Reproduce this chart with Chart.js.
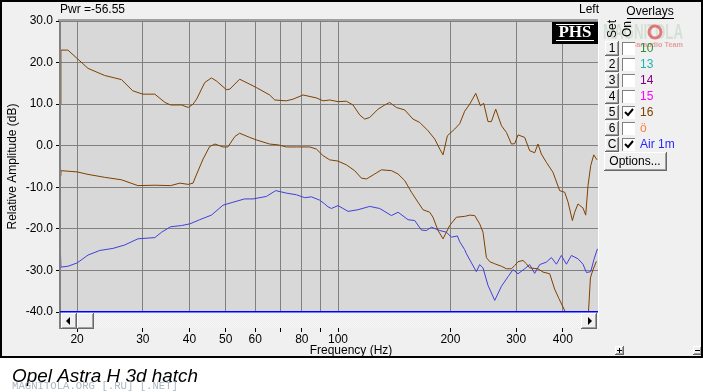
<!DOCTYPE html>
<html>
<head>
<meta charset="utf-8">
<script src="https://cdn.jsdelivr.net/npm/chart.js@4.4.0/dist/chart.umd.min.js"></script>
<style>
html, body { margin: 0; padding: 0; background: #fff; }
canvas { display: block; }
</style>
</head>
<body>
<canvas id="resp" width="703" height="392"></canvas>
<script>
// upper brown trace (overlay 16)
var upperFreq = [18.0, 18.1, 18.9, 20, 21.4, 23.7, 26.3, 28.2, 30, 32.3, 34.4, 35.6, 38.1, 39.7, 40.9, 41.8, 43.95, 45.8, 47.2, 50.2, 51.3, 54.5, 57.4, 60.4, 65.6, 67.7, 72.7, 75.8, 80.6, 87.5, 91.2, 95.0, 100, 105.3, 109.7, 114.3, 117.9, 121.6, 128.0, 133.4, 137.5, 143.3, 150.9, 158.8, 165.5, 174.2, 181.6, 187.3, 191.1, 196.3, 205.3, 211.8, 218.4, 225.3, 233.8, 240.6, 245.6, 252.2, 257.5, 264.5, 274.0, 282.5, 291.4, 297.4, 303.5, 316.2, 326.1, 336.3, 343.2, 350.5, 361.5, 376.5, 392.4, 404.7, 413.0, 424.4, 430.5, 439.3, 453.1, 460.7, 467.3, 475.2, 484.1, 494.0];
var upperDb = [10.0, 23.0, 23.0, 21.0, 18.6, 16.9, 15.9, 13.2, 12.4, 12.4, 10.4, 9.8, 9.8, 9.2, 10.0, 11.2, 15.2, 16.3, 15.6, 13.5, 13.6, 16.0, 15.0, 14.0, 12.2, 11.0, 10.8, 11.2, 12.2, 11.5, 10.8, 11.0, 10.6, 10.7, 9.8, 7.4, 6.4, 6.8, 8.8, 9.8, 10.4, 9.2, 8.6, 6.4, 5.6, 3.6, 1.6, -0.8, -2.2, 2.4, 4.0, 5.3, 8.3, 10.0, 12.6, 9.6, 10.2, 5.8, 5.8, 8.8, 4.8, 3.2, 0.4, 0.5, 2.6, 2.0, -1.2, -1.7, 0.4, -2.0, -4.0, -6.4, -10.8, -11.2, -13.5, -18.0, -16.0, -14.0, -15.0, -16.7, -9.6, -4.8, -2.2, -3.4];

// lower brown trace
var lowerFreq = [18.0, 18.1, 20, 21.4, 23.7, 26.3, 29.1, 32.3, 35.6, 37.7, 39.7, 40.9, 41.3, 43.5, 45.3, 46.8, 49.2, 50.7, 52.9, 54.5, 58.0, 60.4, 65.6, 69.1, 72.7, 77.4, 84.0, 87.5, 91.2, 95.0, 100, 105.3, 110.8, 115.5, 119.2, 125.4, 130.7, 139.0, 144.8, 150.9, 157.3, 163.8, 168.9, 176.0, 179.6, 185.3, 191.1, 199.1, 207.5, 218.4, 225.3, 232.3, 239.6, 244.5, 249.7, 254.9, 262.9, 274.0, 282.5, 291.4, 297.4, 303.5, 313.0, 319.6, 326.1, 343.2, 354.0, 369.0, 380.4, 390.7, 400.5, 409.0, 420, 450, 467.3, 474.3, 482.0, 492.2];
var lowerDb = [-7.2, -6.0, -6.3, -6.9, -7.6, -8.2, -9.6, -9.5, -9.6, -9.0, -9.3, -9.0, -8.0, -3.2, -0.2, 0.4, -0.3, -0.3, 2.2, 3.0, 2.0, 1.4, 0.4, 0.2, -0.3, -0.3, -0.3, -0.8, -2.4, -3.4, -3.7, -4.6, -6.0, -7.8, -8.0, -6.8, -5.8, -6.0, -6.8, -8.4, -11.2, -13.6, -15.4, -16.0, -17.2, -20.4, -22.4, -19.2, -17.2, -17.0, -16.7, -16.8, -18.8, -20.8, -26.9, -27.9, -28.4, -29.0, -29.6, -29.6, -28.8, -27.9, -27.6, -28.4, -29.4, -29.6, -30.4, -30.8, -34.5, -36.8, -38.8, -40.5, -43, -45, -42, -31.8, -29.8, -27.8];

// blue trace (Air 1m)
var airFreq = [17.95, 18.1, 18.9, 20, 21.4, 23.0, 24.95, 26.8, 29.1, 32.3, 33.7, 35.6, 38.1, 40.1, 42.6, 45.8, 49.2, 52.3, 56.2, 59.2, 64.3, 68.1, 72.7, 77.4, 81.4, 84.9, 89.3, 92.1, 94.0, 96.0, 100, 106.4, 113.1, 121.6, 129.3, 139.0, 144.8, 154.0, 160.5, 167.3, 172.5, 177.9, 187.3, 195.1, 201.2, 208.8, 211.8, 218.4, 220.8, 234.7, 239.6, 244.5, 252.2, 262.9, 274.0, 285.4, 294.3, 303.5, 316.2, 326.1, 336.3, 346.9, 361.5, 372.8, 384.5, 396.5, 409.0, 421.8, 439.3, 453.1, 462.7, 475.2, 485.0, 495.3];
var airDb = [-17.8, -29.2, -29.0, -28.2, -26.3, -25.2, -24.7, -23.9, -22.4, -22.1, -20.8, -19.5, -19.2, -18.8, -17.8, -16.7, -14.3, -13.6, -12.8, -12.8, -12.2, -10.8, -11.4, -11.8, -12.5, -12.3, -13.1, -14.0, -14.7, -15.1, -14.4, -15.8, -15.4, -14.6, -15.1, -16.8, -16.0, -17.8, -18.0, -20.3, -20.4, -19.6, -20.4, -20.8, -22.0, -21.7, -23.1, -25.0, -26.0, -30.3, -28.6, -29.4, -33.6, -37.2, -33.8, -31.5, -29.8, -30.8, -29.6, -28.6, -30.7, -28.6, -28.0, -26.9, -28.5, -26.4, -28.5, -26.4, -27.2, -28.5, -30.5, -30.3, -27.3, -24.8];

var freqTicks = [20, 30, 40, 50, 60, 70, 80, 90, 100, 200, 300, 400];
var freqLabels = ['20', '30', '40', '50', '60', '', '80', '', '100', '200', '300', '400'];
var dbTicks = [-40, -30, -20, -10, 0, 10, 20, 30];

var overlaySets = ['1', '2', '3', '4', '5', '6', 'C'];
var overlayNames = ['10', '13', '14', '15', '16', '\u00f6', 'Air 1m'];
var overlayOn = [false, false, false, false, true, false, true];
var overlayColors = ['#2f8f2f', '#1fb3b3', '#800080', '#ff00ff', '#804000', '#ff8040', '#2828ff'];

var FONT = '"Liberation Sans", Arial, sans-serif';
var BROWN = '#804000';
var BLUE = '#4040dc';

function pts(fs, ds) {
  return fs.map(function (f, i) { return { x: f, y: ds[i] }; });
}

function bevel(c, x, y, w, h) {
  c.fillStyle = '#f0f0f0';
  c.fillRect(x, y, w, h);
  c.fillStyle = '#ffffff';
  c.fillRect(x, y, w, 1);
  c.fillRect(x, y, 1, h);
  c.fillStyle = '#a0a0a0';
  c.fillRect(x + 1, y + h - 2, w - 2, 1);
  c.fillRect(x + w - 2, y + 1, 1, h - 2);
  c.fillStyle = '#696969';
  c.fillRect(x, y + h - 1, w, 1);
  c.fillRect(x + w - 1, y, 1, h);
}

// draw text squeezed into a given width
function fitText(c, s, x, y, w) {
  var m = c.measureText(s).width;
  c.save();
  c.translate(x, y);
  c.scale(w / m, 1);
  c.fillText(s, 0, 0);
  c.restore();
}

var frame = {
  id: 'frame',
  beforeDraw: function (chart) {
    var c = chart.ctx, a = chart.chartArea;
    c.save();
    c.fillStyle = '#ffffff';
    c.fillRect(0, 0, 703, 392);
    c.fillStyle = '#f0f0f0';
    c.fillRect(0, 0, 703, 357);
    c.fillStyle = '#d8d8d8';
    c.fillRect(a.left, a.top, a.right - a.left, a.bottom - a.top);
    c.restore();
  },
  afterDraw: function (chart) {
    var c = chart.ctx, a = chart.chartArea;
    c.save();

    // top border of the plot and left edge down to the scrollbar
    c.fillStyle = '#a0a0a0';
    c.fillRect(a.left - 2, a.top - 2, a.right - a.left + 2, 2);
    c.fillStyle = '#808080';
    c.fillRect(a.left - 1, a.top, 2, a.bottom + 17 - a.top);
    c.fillStyle = '#ffffff';
    c.fillRect(a.right, a.top - 2, 1, a.bottom + 18 - a.top);

    // scrollbar
    var sy = a.bottom, sh = 16;
    c.fillStyle = '#f8f8f8';
    c.fillRect(a.left + 1, sy, a.right - a.left - 1, sh);
    c.fillStyle = '#ececec';
    for (var x = a.left + 1; x < a.right; x++) {
      for (var y = sy; y < sy + sh; y++) {
        if ((x + y) % 2 === 0) c.fillRect(x, y, 1, 1);
      }
    }
    c.fillStyle = '#0000ff';
    c.fillRect(a.left, sy - 1, a.right - a.left, 1.5);
    bevel(c, a.left + 1, sy + 1, 16, sh);
    bevel(c, a.left + 17, sy + 1, 17, sh);
    bevel(c, a.right - 17, sy + 1, 16, sh);
    c.fillStyle = '#000';
    c.beginPath();
    c.moveTo(a.left + 6, sy + 9);
    c.lineTo(a.left + 10, sy + 5);
    c.lineTo(a.left + 10, sy + 13);
    c.fill();
    c.beginPath();
    c.moveTo(a.right - 6, sy + 9);
    c.lineTo(a.right - 10, sy + 5);
    c.lineTo(a.right - 10, sy + 13);
    c.fill();

    // labels around the plot
    c.fillStyle = '#000';
    c.font = '12px ' + FONT;
    c.textBaseline = 'middle';
    c.textAlign = 'left';
    c.fillText('Pwr =-56.55', 60, 10);
    c.textAlign = 'right';
    c.fillText('Left', 599, 10);
    c.textAlign = 'center';
    c.fillText('Frequency (Hz)', 351, 351);

    // PHS logo
    c.fillStyle = '#000';
    c.fillRect(552, 22, 46, 22);
    c.fillStyle = '#fff';
    c.fillRect(556, 24, 38, 1);
    c.fillRect(556, 40, 38, 1);
    c.font = 'bold 17px "Liberation Serif", "DejaVu Serif", serif';
    c.textAlign = 'center';
    c.fillText('PHS', 575, 33);

    // faint logo watermark behind the panel header
    c.textAlign = 'left';
    c.font = 'bold 22px ' + FONT;
    c.fillStyle = 'rgba(120,170,120,0.22)';
    fitText(c, 'MAGNITOLA', 603, 33, 80);
    c.strokeStyle = 'rgba(220,70,70,0.7)';
    c.lineWidth = 3;
    c.beginPath();
    c.arc(655, 32, 6, 0, Math.PI * 2);
    c.stroke();
    c.font = 'bold 8px ' + FONT;
    c.fillStyle = 'rgba(220,90,90,0.55)';
    fitText(c, 'Caraudio Team', 631, 45, 52);

    // overlay panel
    c.fillStyle = '#000';
    c.font = '12px ' + FONT;
    c.textAlign = 'center';
    c.fillText('Overlays', 650, 12);
    c.fillRect(627, 18, 47, 1);
    c.save();
    c.translate(613, 29);
    c.rotate(-Math.PI / 2);
    c.fillText('Set', 0, 0);
    c.restore();
    c.save();
    c.translate(628, 29);
    c.rotate(-Math.PI / 2);
    c.fillText('On', 0, 0);
    c.restore();

    for (var i = 0; i < overlaySets.length; i++) {
      var cy = 48 + i * 16;
      bevel(c, 605, cy - 7, 14, 15);
      c.fillStyle = '#000';
      c.textAlign = 'center';
      c.font = '12px ' + FONT;
      c.fillText(overlaySets[i], 612, cy + 1);
      // checkbox
      c.fillStyle = '#808080';
      c.fillRect(622, cy - 6, 13, 13);
      c.fillStyle = '#ffffff';
      c.fillRect(623, cy - 5, 12, 12);
      if (overlayOn[i]) {
        c.strokeStyle = '#000';
        c.lineWidth = 2;
        c.beginPath();
        c.moveTo(625, cy);
        c.lineTo(628, cy + 3);
        c.lineTo(633, cy - 3);
        c.stroke();
      }
      c.fillStyle = overlayColors[i];
      c.textAlign = 'left';
      c.fillText(overlayNames[i], 640, cy + 1);
    }

    bevel(c, 604, 152, 63, 19);
    c.fillStyle = '#000';
    c.textAlign = 'center';
    c.fillText('Options...', 635, 162);

    // zoom buttons
    bevel(c, 615, 346, 9, 9);
    bevel(c, 693, 346, 9, 9);
    c.fillStyle = '#000';
    c.fillRect(617, 350, 5, 1);
    c.fillRect(619, 348, 1, 5);
    c.fillRect(695, 350, 5, 1);

    // window border
    c.strokeStyle = '#000';
    c.lineWidth = 2;
    c.strokeRect(1, 1, 701, 356);

    // caption below the window
    c.fillStyle = '#000';
    c.textAlign = 'left';
    c.textBaseline = 'alphabetic';
    c.font = 'italic 19px ' + FONT;
    fitText(c, 'Opel Astra H 3d hatch', 12, 382, 186);
    c.fillStyle = 'rgba(150,165,180,0.8)';
    c.font = '10.5px "Liberation Mono", "DejaVu Sans Mono", monospace';
    fitText(c, 'MAGNITOLA.ORG [.RU] [.NET]', 12, 389, 166);

    c.restore();
  }
};

new Chart(document.getElementById('resp').getContext('2d'), {
  type: 'line',
  data: {
    datasets: [
      { data: pts(upperFreq, upperDb), borderColor: BROWN, borderWidth: 1, pointRadius: 0, fill: false },
      { data: pts(lowerFreq, lowerDb), borderColor: BROWN, borderWidth: 1, pointRadius: 0, fill: false },
      { data: pts(airFreq, airDb), borderColor: BLUE, borderWidth: 1, pointRadius: 0, fill: false }
    ]
  },
  options: {
    responsive: false,
    animation: false,
    layout: { padding: { left: 0, top: 21, right: 105, bottom: 0 } },
    plugins: { legend: { display: false }, tooltip: { enabled: false } },
    scales: {
      x: {
        type: 'logarithmic',
        min: 18,
        max: 497,
        afterBuildTicks: function (s) {
          s.ticks = freqTicks.map(function (v) { return { value: v }; });
        },
        afterFit: function (s) { s.height = 80; },
        grid: { color: '#808080', tickColor: '#000', tickLength: 20 },
        border: { display: false },
        ticks: {
          autoSkip: false,
          maxRotation: 0,
          padding: 0,
          color: '#000',
          font: { family: FONT, size: 12 },
          callback: function (v, i) { return freqLabels[i]; }
        }
      },
      y: {
        min: -40,
        max: 30,
        afterBuildTicks: function (s) {
          s.ticks = dbTicks.map(function (v) { return { value: v }; });
        },
        afterFit: function (s) { s.width = 60; },
        grid: { color: '#808080', tickColor: '#000', tickLength: 4 },
        border: { color: '#808080', width: 2 },
        ticks: {
          padding: 3,
          color: '#000',
          font: { family: FONT, size: 12 },
          callback: function (v) { return v.toFixed(1); }
        },
        title: {
          display: true,
          text: 'Relative Amplitude (dB)',
          color: '#000',
          font: { family: FONT, size: 12 },
          padding: { top: 5, bottom: 0 }
        }
      }
    }
  },
  plugins: [frame]
});
</script>
</body>
</html>
